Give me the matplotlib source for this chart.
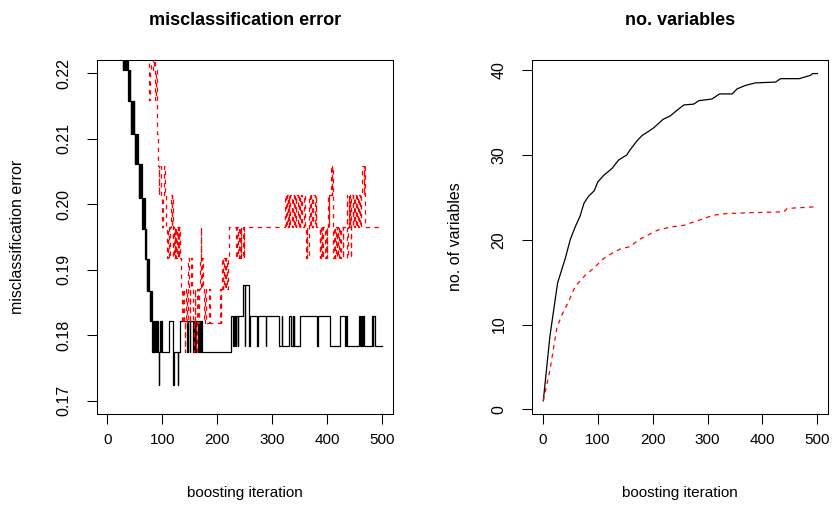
import matplotlib
matplotlib.use("Agg")
import matplotlib.pyplot as plt

# misclassification error per boosting iteration (change points, step data)
err_black_it = [1, 5, 10, 15, 20, 24, 28, 29, 31, 32, 34, 36, 37, 38, 39, 40, 41, 42, 43, 44,
                45, 46, 47, 48, 49, 50, 51, 52, 53, 54, 55, 56, 57, 58, 59, 60, 61, 62, 63, 64,
                65, 66, 67, 68, 69, 70, 71, 72, 73, 74, 75, 76, 77, 78, 79, 80, 81, 82, 83, 84,
                85, 86, 87, 88, 89, 90, 91, 92, 94, 95, 96, 97, 98, 99, 112, 120, 121, 128, 129, 133,
                146, 147, 150, 151, 156, 157, 158, 159, 160, 161, 166, 167, 168, 169, 170, 171, 173, 225, 229, 230,
                232, 233, 234, 235, 237, 238, 246, 250, 251, 258, 259, 273, 274, 288, 289, 313, 317, 318, 330, 335,
                337, 338, 339, 340, 351, 381, 384, 405, 424, 433, 434, 436, 458, 459, 460, 461, 463, 464, 465, 467,
                482, 483, 484, 487, 500]
err_black = [0.262, 0.251, 0.243, 0.236, 0.231, 0.2253, 0.2205, 0.2253, 0.2205, 0.2253, 0.2205, 0.2253, 0.2205, 0.2157, 0.2205, 0.2157, 0.2205, 0.2157, 0.2107, 0.2157,
             0.2107, 0.2157, 0.2107, 0.2157, 0.2107, 0.2061, 0.2107, 0.2061, 0.2107, 0.2061, 0.2107, 0.2061, 0.2010, 0.2061, 0.2010, 0.2061, 0.2010, 0.2061, 0.2010, 0.1962,
             0.2010, 0.1962, 0.2010, 0.1962, 0.1916, 0.1962, 0.1916, 0.1867, 0.1916, 0.1867, 0.1916, 0.1867, 0.1822, 0.1867, 0.1822, 0.1867, 0.1822, 0.1774, 0.1822, 0.1774,
             0.1822, 0.1774, 0.1822, 0.1774, 0.1822, 0.1774, 0.1822, 0.1774, 0.1724, 0.1774, 0.1822, 0.1774, 0.1822, 0.1774, 0.1822, 0.1724, 0.1774, 0.1724, 0.1774, 0.1822,
             0.1774, 0.1822, 0.1774, 0.1822, 0.1774, 0.1822, 0.1774, 0.1822, 0.1774, 0.1822, 0.1774, 0.1822, 0.1774, 0.1822, 0.1774, 0.1822, 0.1774, 0.1829, 0.1783, 0.1829,
             0.1783, 0.1829, 0.1783, 0.1829, 0.1783, 0.1829, 0.1877, 0.1783, 0.1877, 0.1783, 0.1829, 0.1783, 0.1829, 0.1783, 0.1829, 0.1783, 0.1829, 0.1783, 0.1829, 0.1783,
             0.1829, 0.1783, 0.1829, 0.1783, 0.1829, 0.1783, 0.1829, 0.1783, 0.1829, 0.1783, 0.1829, 0.1783, 0.1829, 0.1783, 0.1829, 0.1783, 0.1829, 0.1783, 0.1829, 0.1783,
             0.1829, 0.1783, 0.1829, 0.1783, 0.1783]

err_red_it = [1, 10, 30, 50, 65, 74, 76, 78, 80, 84, 86, 87, 89, 90, 92, 94, 95, 97, 99, 101,
              104, 105, 107, 109, 110, 112, 114, 116, 117, 118, 119, 120, 122, 123, 124, 125, 126, 127, 128, 129,
              130, 131, 133, 135, 136, 138, 140, 141, 142, 144, 146, 147, 148, 150, 151, 153, 154, 156, 157, 158,
              159, 160, 161, 163, 164, 166, 167, 169, 170, 171, 173, 174, 176, 178, 180, 186, 187, 205, 206, 207,
              209, 211, 213, 215, 216, 218, 220, 222, 235, 236, 238, 240, 241, 243, 244, 246, 248, 249, 323, 325,
              326, 328, 330, 331, 333, 336, 337, 339, 341, 343, 344, 347, 349, 351, 352, 355, 357, 359, 362, 363,
              364, 366, 367, 369, 371, 373, 375, 377, 379, 380, 386, 387, 388, 390, 391, 392, 396, 397, 399, 400,
              402, 403, 404, 406, 408, 409, 410, 411, 412, 414, 415, 417, 418, 420, 421, 424, 425, 428, 429, 435,
              436, 437, 439, 440, 441, 442, 443, 444, 446, 447, 449, 450, 452, 454, 456, 458, 460, 462, 464, 466,
              467, 468, 500]
err_red = [0.290, 0.270, 0.250, 0.238, 0.230, 0.2253, 0.2159, 0.2205, 0.2253, 0.2205, 0.2253, 0.2159, 0.2205, 0.2107, 0.2059, 0.2014, 0.2059, 0.2014, 0.1966, 0.2014,
           0.2059, 0.2014, 0.1966, 0.1918, 0.1966, 0.1918, 0.1966, 0.2014, 0.1966, 0.2014, 0.1918, 0.1966, 0.1918, 0.1966, 0.1918, 0.1966, 0.1918, 0.1966, 0.1918, 0.1966,
           0.1918, 0.1966, 0.1918, 0.1870, 0.1819, 0.1870, 0.1819, 0.1775, 0.1819, 0.1870, 0.1819, 0.1918, 0.1870, 0.1819, 0.1870, 0.1918, 0.1870, 0.1819, 0.1775, 0.1819,
           0.1870, 0.1819, 0.1775, 0.1819, 0.1870, 0.1819, 0.1870, 0.1918, 0.1966, 0.1870, 0.1918, 0.1870, 0.1819, 0.1870, 0.1819, 0.1870, 0.1819, 0.1870, 0.1819, 0.1870,
           0.1918, 0.1870, 0.1918, 0.1870, 0.1918, 0.1870, 0.1918, 0.1966, 0.1918, 0.1966, 0.1918, 0.1966, 0.1918, 0.1966, 0.1918, 0.1966, 0.1918, 0.1966, 0.2014, 0.1966,
           0.2014, 0.1966, 0.2014, 0.1966, 0.2014, 0.1966, 0.2014, 0.1966, 0.2014, 0.1966, 0.2014, 0.1966, 0.2014, 0.1966, 0.2014, 0.1966, 0.2014, 0.1966, 0.1918, 0.1966,
           0.1918, 0.1966, 0.2014, 0.1966, 0.2014, 0.1966, 0.2014, 0.1966, 0.2014, 0.1966, 0.1918, 0.1966, 0.1918, 0.1966, 0.1918, 0.1966, 0.1918, 0.1966, 0.1918, 0.1966,
           0.2014, 0.1966, 0.2014, 0.2059, 0.2014, 0.2059, 0.1966, 0.1918, 0.1966, 0.1918, 0.1966, 0.1918, 0.1966, 0.1918, 0.1966, 0.1918, 0.1966, 0.1918, 0.1966, 0.2014,
           0.1918, 0.1966, 0.2014, 0.1966, 0.2014, 0.1966, 0.1918, 0.2014, 0.1966, 0.2014, 0.1966, 0.2014, 0.1966, 0.2014, 0.1966, 0.2014, 0.1966, 0.2014, 0.2059, 0.2014,
           0.2059, 0.1966, 0.1966]

# number of selected variables per boosting iteration
nvar_black_it = [1, 13, 27, 41, 50, 59, 68, 75, 83, 94, 100, 111, 126, 138, 153, 159, 172, 181, 193, 202,
                 219, 232, 245, 257, 275, 284, 308, 322, 345, 354, 369, 387, 424, 433, 467, 488, 491, 500]
nvar_black = [1.0, 8.6, 14.9, 17.8, 20.0, 21.5, 22.8, 24.3, 25.1, 25.8, 26.8, 27.6, 28.4, 29.4, 30.0, 30.6, 31.7, 32.3, 32.8, 33.2,
              34.2, 34.6, 35.3, 35.9, 36.0, 36.4, 36.6, 37.2, 37.2, 37.8, 38.2, 38.5, 38.6, 39.0, 39.0, 39.4, 39.6, 39.6]
nvar_red_it = [1, 13, 26, 36, 47, 59, 77, 92, 111, 126, 141, 159, 175, 193, 208, 232, 257, 275, 293, 311,
               336, 384, 439, 445, 500]
nvar_red = [1.0, 4.6, 9.7, 11.3, 12.7, 14.5, 15.8, 16.6, 17.8, 18.4, 18.9, 19.2, 20.0, 20.6, 21.1, 21.5, 21.7, 22.1, 22.5, 22.9,
            23.1, 23.2, 23.3, 23.7, 23.9]

xticks = [0, 100, 200, 300, 400, 500]
err_ticks = [0.17, 0.18, 0.19, 0.20, 0.21, 0.22]
err_ticklabels = ["0.17", "0.18", "0.19", "0.20", "0.21", "0.22"]
nvar_ticks = [0, 10, 20, 30, 40]

font = ["Liberation Sans", "DejaVu Sans"]
dash = (0, (3.5, 3.5))

fig = plt.figure(figsize=(8.35, 5.09), dpi=100)
ax1 = fig.add_axes([0.1158, 0.1866, 0.3552, 0.6955])
ax2 = fig.add_axes([0.6375, 0.1866, 0.3545, 0.6955])

ax1.step(err_black_it, err_black, where="post", color="black", lw=0.9)
ax1.step(err_red_it, err_red, where="post", color="red", lw=0.9, ls=dash)
ax1.set_ylim(0.168, 0.222)
ax1.set_yticks(err_ticks)
ax1.set_yticklabels(err_ticklabels)

ax2.plot(nvar_black_it, nvar_black, color="black", lw=0.9)
ax2.plot(nvar_red_it, nvar_red, color="red", lw=0.9, ls=dash)
ax2.set_ylim(-0.55, 41.2)
ax2.set_yticks(nvar_ticks)

titles = ["misclassification error", "no. variables"]
ylabels = ["misclassification error", "no. of variables"]
for ax, t, yl, lx in zip([ax1, ax2], titles, ylabels, [-0.267, -0.261]):
    ax.set_xlim(-19, 520)
    ax.set_xticks(xticks)
    for s in ax.spines.values():
        s.set_linewidth(0.75)
    ax.tick_params(direction="out", length=7.5, width=0.75, color="black")
    ax.tick_params(axis="x", pad=6)
    ax.tick_params(axis="y", pad=11, labelrotation=90)
    for lab in ax.get_xticklabels():
        lab.set_fontfamily(font)
        lab.set_fontsize(11)
    for lab in ax.get_yticklabels():
        lab.set_fontfamily(font)
        lab.set_fontsize(11.5)
        lab.set_va("center")
    ax.set_title(t, fontfamily=font, fontweight="bold", fontsize=13, pad=25)
    ax.set_xlabel("boosting iteration", fontfamily=font, fontsize=11)
    ax.xaxis.set_label_coords(0.5, -0.223)
    ax.xaxis.label.set_va("center")
    ax.set_ylabel(yl, fontfamily=font, fontsize=11.5)
    ax.yaxis.set_label_coords(lx, 0.5)
    ax.yaxis.label.set_va("center")

fig.savefig("out.png", dpi=100)
